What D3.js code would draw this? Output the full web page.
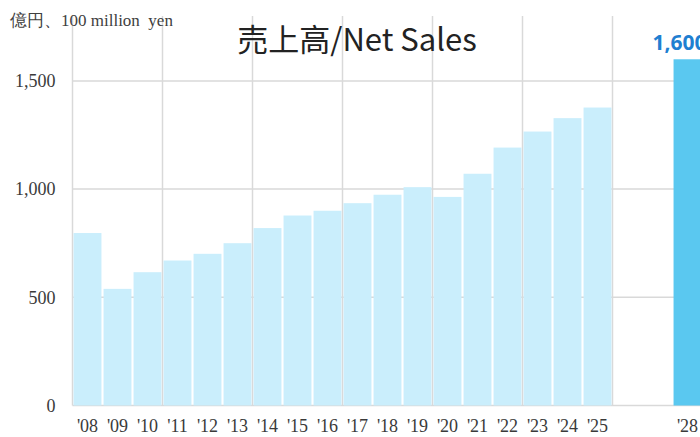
<!DOCTYPE html>
<html>
<head>
<meta charset="utf-8">
<script src="https://cdn.jsdelivr.net/npm/d3@7"></script>
<style>
  html, body { margin: 0; padding: 0; background: #fff; }
  svg { display: block; }
</style>
</head>
<body>
<svg id="chart" width="700" height="437"></svg>
<script>
// ---- data ----
const categories = ["'08","'09","'10","'11","'12","'13","'14","'15","'16","'17","'18","'19","'20","'21","'22","'23","'24","'25","'26","'27","'28"];
const sales = [797, 539, 616, 670, 701, 750, 820, 878, 900, 935, 974, 1009, 964, 1071, 1192, 1266, 1328, 1377, null, null, 1600];
const yTicks = [0, 500, 1000, 1500];
const highlightCategory = "'28";
const titleText = "売上高/Net Sales";
const unitText = "億円、100 million  yen";

(function () {
// ---- layout ----
const W = 700, H = 437;
const mLeft = 72.5, mRight = 702.5, mTop = 16, mBottom = 405.5;
const svg = d3.select("#chart");

const data = categories.map((c, i) => ({ cat: c, value: sales[i] }));

const x = d3.scaleBand().domain(categories).range([mLeft, mRight])
  .paddingInner(0.07).paddingOuter(0.035);
const y = d3.scaleLinear().domain([0, 1800]).range([mBottom, mTop]);

const grid = "#d9d9d9";

// horizontal gridlines
svg.append("g").selectAll("line").data(yTicks).join("line")
  .attr("x1", mLeft).attr("x2", W)
  .attr("y1", d => y(d)).attr("y2", d => y(d))
  .attr("stroke", grid).attr("stroke-width", 1.5);

// vertical gridlines every 3 categories
const vIdx = d3.range(0, categories.length + 1, 3);
svg.append("g").selectAll("line").data(vIdx).join("line")
  .attr("x1", i => mLeft + i * x.step()).attr("x2", i => mLeft + i * x.step())
  .attr("y1", mTop).attr("y2", mBottom)
  .attr("stroke", grid).attr("stroke-width", 1.5);

// bars
svg.append("g").selectAll("rect").data(data.filter(d => d.value != null)).join("rect")
  .attr("x", d => x(d.cat))
  .attr("width", x.bandwidth())
  .attr("y", d => y(d.value))
  .attr("height", d => y(0) - y(d.value))
  .attr("fill", d => d.cat === highlightCategory ? "#5ac8f0" : "#caeefc");

// y axis labels
const yAxis = svg.append("g").attr("transform", `translate(${mLeft},0)`)
  .call(d3.axisLeft(y).tickValues(yTicks).tickSize(0).tickPadding(17).tickFormat(d3.format(",")));
yAxis.select(".domain").remove();
yAxis.selectAll("text").attr("font-family", "'Liberation Serif', serif")
  .attr("font-size", 18).attr("fill", "#3a3a3a");

// x axis labels
const labeled = data.filter(d => d.value != null).map(d => d.cat);
const xAxis = svg.append("g").attr("transform", `translate(0,${mBottom})`)
  .call(d3.axisBottom(x).tickValues(labeled).tickSize(0).tickPadding(14));
xAxis.select(".domain").remove();
xAxis.selectAll("text").attr("font-family", "'Liberation Serif', serif")
  .attr("font-size", 18).attr("fill", "#3a3a3a");

// data label for highlighted bar
const hl = data.find(d => d.cat === highlightCategory);
svg.append("text")
  .attr("x", x(hl.cat) + x.bandwidth() / 2 - 8)
  .attr("y", y(hl.value) - 9)
  .attr("text-anchor", "middle")
  .attr("font-family", "'Open Sans', sans-serif")
  .attr("font-weight", "bold")
  .attr("font-size", 21)
  .attr("fill", "#1f7fd1")
  .text(d3.format(",")(hl.value));

// title
svg.append("text")
  .attr("x", 357).attr("y", 51)
  .attr("text-anchor", "middle")
  .attr("font-family", "'Noto Sans CJK SC', sans-serif")
  .attr("font-size", 31)
  .attr("fill", "#222")
  .text(titleText);

// unit label
svg.append("text")
  .attr("x", 10).attr("y", 26)
  .attr("font-family", "'Liberation Serif', serif")
  .attr("font-size", 17)
  .attr("fill", "#404040")
  .attr("xml:space", "preserve")
  .style("white-space", "pre")
  .text(unitText);
})();
</script>
</body>
</html>
